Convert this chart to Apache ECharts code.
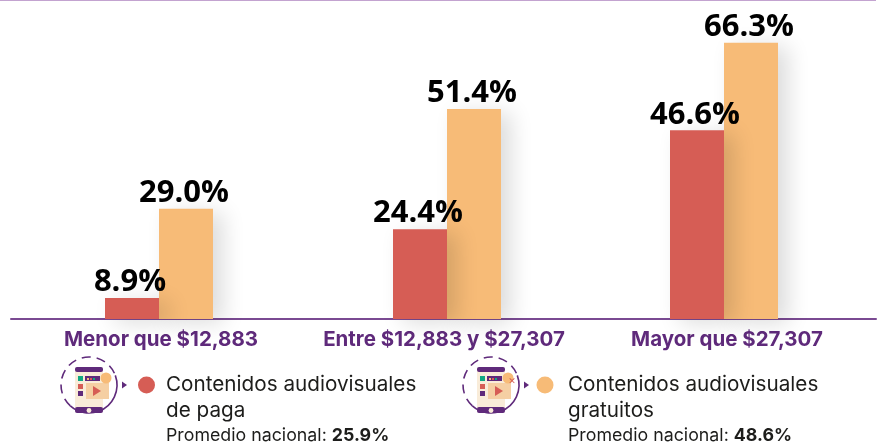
<!DOCTYPE html>
<html><head><meta charset="utf-8">
<style>html,body{margin:0;padding:0;background:#fff}#c{width:882px;height:446px}</style>
<script src="https://cdn.jsdelivr.net/npm/echarts@6/dist/echarts.min.js"></script>
</head><body><div id="c"></div>
<script>
const categories = ['Menor que $12,883', 'Entre $12,883 y $27,307', 'Mayor que $27,307'];
const paga = [8.9, 24.4, 46.6];
const gratuitos = [29.0, 51.4, 66.3];
const seriesNames = ['Contenidos audiovisuales de paga', 'Contenidos audiovisuales gratuitos'];
const legendLine1 = ['Contenidos audiovisuales', 'Contenidos audiovisuales'];
const legendLine2 = ['de paga', 'gratuitos'];
const promedioLabel = 'Promedio nacional: ';
const promedios = ['25.9%', '48.6%'];

const RED = '#d65d55', ORANGE = '#f7bb77', PURPLE = '#5f2a7b';
const FONT = 'Inter, "Noto Sans", sans-serif';
const VALFONT = '"Open Sans", sans-serif';
const grids = [
  {left: 11, width: 296, labelShift: 4},
  {left: 307, width: 280, labelShift: -6},
  {left: 572, width: 304, labelShift: 6}
];
const shared = {top: 0, height: 319};
const option = {
  animation: false,
  backgroundColor: '#fff',
  grid: grids.map(g => ({left: g.left, width: g.width, ...shared})),
  xAxis: grids.map((g, i) => ({
    type: 'category', gridIndex: i, data: [categories[i]],
    axisTick: {show: false},
    axisLine: {lineStyle: {color: '#7a4a92', width: 2}},
    axisLabel: {color: PURPLE, fontFamily: FONT, fontWeight: 'bold', fontSize: 20.5, margin: 10,
      padding: g.labelShift > 0 ? [0, 0, 0, g.labelShift] : [0, -g.labelShift, 0, 0]}
  })),
  yAxis: grids.map((g, i) => ({type: 'value', gridIndex: i, min: 4.2, max: 75.9, show: false})),
  series: []
};
const mk = (i, name, val, color, z) => ({
  type: 'bar', name, xAxisIndex: i, yAxisIndex: i, z,
  data: [val], barWidth: 54, barGap: 0,
  itemStyle: {color, shadowColor: 'rgba(0,0,0,0.14)', shadowBlur: 22, shadowOffsetX: 10, shadowOffsetY: 4},
  label: {show: true, position: 'top', distance: 2, offset: [-2, 2], color: '#000', fontFamily: VALFONT,
    fontWeight: 'bold', fontSize: 31, formatter: p => p.value.toFixed(1) + '%'}
});
grids.forEach((g, i) => {
  option.series.push(mk(i, seriesNames[0], paga[i], RED, 3));
  option.series.push(mk(i, seriesNames[1], gratuitos[i], ORANGE, 2));
});

function icon(dx, free, dotX, textX, idx) {
  const c = 89 + dx, out = [];
  out.push({type:'arc', shape:{cx:c, cy:385, r:28, startAngle:-0.35, endAngle:2.3}, style:{fill:null, stroke:PURPLE, lineWidth:1.6}});
  out.push({type:'arc', shape:{cx:c, cy:385, r:28, startAngle:2.3, endAngle:5.93}, style:{fill:null, stroke:PURPLE, lineWidth:1.6, lineDash:[9,6]}});
  const x = c - 14;
  const R = (x0,y0,w,h,fill,r) => out.push({type:'rect', shape:{x:x+x0,y:y0,width:w,height:h,r:r||0}, style:{fill}});
  R(0,367,28,46,'#f9ecd9',3);
  R(0,367,28,5,PURPLE,2);
  R(0,407,28,6,PURPLE,2);
  out.push({type:'circle', shape:{cx:c,cy:410.5,r:2.4}, style:{fill:'#f9ecd9'}});
  R(3,376,5,5,'#10a882'); R(3,384,5,5,RED); R(3,391,5,5,PURPLE);
  R(10,376,15,5,PURPLE);
  R(12,378,2,2,ORANGE); R(15,378,2,2,RED); R(18,378,2,2,'#10a882');
  R(11,383,23,16,'#f5cfa3');
  out.push({type:'polygon', shape:{points:[[x+18,386],[x+18,396],[x+26,391]]}, style:{fill:RED}});
  out.push({type:'circle', shape:{cx:c+17,cy:378,r:5.5}, style:{fill:ORANGE}});
  if (free) {
    out.push({type:'text', style:{x:c+21,y:382,text:'✕',fill:RED,font:'bold 9px "DejaVu Sans"',align:'center',verticalAlign:'middle'}});
  }
  out.push({type:'polygon', shape:{points:[[c+33,381.5],[c+33,388.5],[c+38,385]]}, style:{fill:PURPLE}});
  out.push({type:'circle', shape:{cx:dotX,cy:385,r:8.5}, style:{fill: free ? ORANGE : RED}});
  const T = (text, y, tx) => out.push({type:'text', style:{x:tx, y, text, fill:'#1d1d1b', font:'20.7px '+FONT, verticalAlign:'middle'}});
  T(legendLine1[idx], 385, textX);
  T(legendLine2[idx], 411, textX);
  out.push({type:'text', style:{x:textX, y:436, text:'{a|'+promedioLabel+'}{b|'+promedios[idx]+'}', verticalAlign:'middle',
    rich:{a:{fill:'#1d1d1b', font:'17.8px '+FONT}, b:{fill:'#1d1d1b', font:'bold 17.8px '+FONT}}}});
  return out;
}
option.graphic = [
  {type:'rect', shape:{x:0,y:0,width:876,height:1}, style:{fill:'#c3a3d0'}},
  ...icon(0,false,146.5,166,0),
  ...icon(402,true,545,568,1)
];
echarts.init(document.getElementById('c')).setOption(option);
</script></body></html>
